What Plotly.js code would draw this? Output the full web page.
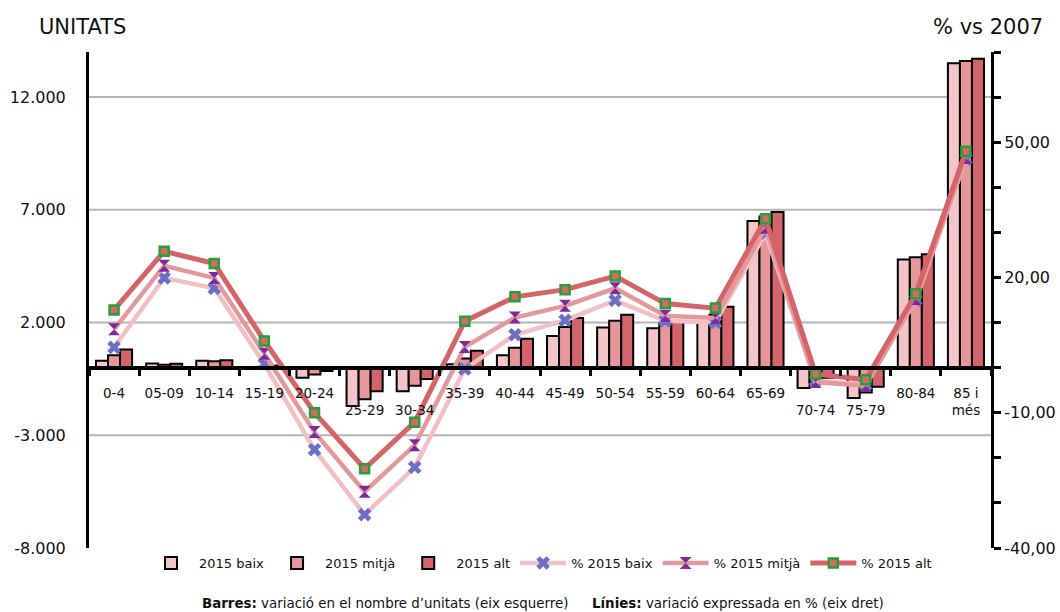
<!DOCTYPE html>
<html><head><meta charset="utf-8">
<script src="https://cdn.plot.ly/plotly-3.0.1.min.js"></script>
<style>html,body{margin:0;padding:0;background:#fff}</style>
</head><body><div id="chart" style="width:1060px;height:612px"></div>
<script>
const categories = ['0-4','05-09','10-14','15-19','20-24','25-29','30-34','35-39','40-44','45-49','50-54','55-59','60-64','65-69','70-74','75-79','80-84','85 i més'];
const tickLabels = ['0-4','05-09','10-14','15-19','20-24','<br>25-29','<br>30-34','35-39','40-44','45-49','50-54','55-59','60-64','65-69','<br>70-74','<br>75-79','80-84','85 i<br>més'];

const bar2015Baix  = [300, 180, 300, -60, -450, -1700, -1050, 150, 550, 1400, 1780, 1750, 2050, 6500, -900, -1350, 4800, 13500];
const bar2015Mitja = [550, 130, 280, 40, -300, -1400, -800, 400, 880, 1800, 2080, 1950, 2350, 6700, -650, -1100, 4900, 13600];
const bar2015Alt   = [800, 170, 330, 100, -150, -1050, -500, 750, 1280, 2200, 2350, 2070, 2700, 6900, -450, -850, 5030, 13700];

const pct2015Baix  = [4.5, 19.9, 17.6, 0.8, -18.2, -32.6, -22.1, -0.3, 7.3, 10.5, 14.9, 10.4, 10.0, 29.8, -2.9, -3.8, 15.0, 46.3];
const pct2015Mitja = [8.5, 22.6, 19.9, 3.1, -14.3, -27.5, -17.2, 4.6, 11.1, 13.7, 17.6, 11.5, 11.0, 31.0, -3.2, -4.0, 15.2, 46.5];
const pct2015Alt   = [12.8, 25.8, 23.1, 5.9, -10.0, -22.4, -12.1, 10.3, 15.7, 17.3, 20.3, 14.2, 13.2, 33.0, -1.4, -2.7, 16.4, 48.0];

const leftTicks = [-8000, -3000, 2000, 7000, 12000];
const leftTickText = ['-8.000', '-3.000', '2.000', '7.000', '12.000'];
const gridValues = [-3000, 2000, 7000, 12000];
const rightTicks = [-40, -30, -20, -10, 0, 10, 20, 30, 40, 50, 60, 70];
const rightTickText = ['-40,00', '', '', '-10,00', '', '', '20,00', '', '', '50,00', '', ''];

const FONT = 'DejaVu Sans, Verdana, sans-serif';
const LEFT_RANGE = [-8000, 14000];

const barLine = {color: '#000', width: 2};
const traces = [
  {type: 'bar', name: '2015 baix', x: categories, y: bar2015Baix, marker: {color: '#f3c5c9', line: barLine}},
  {type: 'bar', name: '2015 mitjà', x: categories, y: bar2015Mitja, marker: {color: '#e5979c', line: barLine}},
  {type: 'bar', name: '2015 alt', x: categories, y: bar2015Alt, marker: {color: '#d4646b', line: barLine}},
  {type: 'scatter', mode: 'lines+markers', name: '% 2015 baix', x: categories, y: pct2015Baix, yaxis: 'y2',
   line: {color: '#f2bfc3', width: 4.5}, marker: {symbol: 'x', size: 12, color: '#6b6fc6', line: {width: 0}}},
  {type: 'scatter', mode: 'lines+markers', name: '% 2015 mitjà', x: categories, y: pct2015Mitja, yaxis: 'y2',
   line: {color: '#e3999c', width: 4.5}, marker: {symbol: 'hourglass', size: 12, color: '#7d2a9c', line: {width: 0}}},
  {type: 'scatter', mode: 'lines+markers', name: '% 2015 alt', x: categories, y: pct2015Alt, yaxis: 'y2',
   line: {color: '#d46468', width: 5}, marker: {symbol: 'square', size: 9, color: '#d46a62', line: {color: '#24a03c', width: 2.5}}}
];

const shapes = gridValues.map(v => ({
  type: 'line', xref: 'paper', yref: 'y', x0: 0, x1: 1, y0: v, y1: v,
  line: {color: '#b4b4b4', width: 2}, layer: 'below'
}));

const layout = {
  width: 1060, height: 612,
  margin: {l: 89, r: 69, t: 52, b: 64},
  paper_bgcolor: '#ffffff', plot_bgcolor: '#ffffff',
  font: {family: FONT, size: 13, color: '#111'},
  barmode: 'group', bargap: 0.28, bargroupgap: 0,
  showlegend: true,
  legend: {orientation: 'h', x: 0.5, xanchor: 'center', y: 0, yanchor: 'top', itemwidth: 46,
           font: {family: FONT, size: 13, color: '#111'}, bgcolor: 'rgba(0,0,0,0)'},
  xaxis: {
    type: 'category', anchor: 'free', position: 8000 / 22000, range: [-0.5, 17.5], autorange: false,
    tickmode: 'array', tickvals: categories, ticktext: tickLabels, tickangle: 0,
    showline: true, linecolor: '#000', linewidth: 4,
    ticks: 'outside', tickson: 'boundaries', ticklen: 6, tickwidth: 3, tickcolor: '#000',
    ticklabelstandoff: 12,
    tickfont: {family: FONT, size: 13.5, color: '#111'},
    showgrid: false, zeroline: false, fixedrange: true
  },
  yaxis: {
    range: LEFT_RANGE, tickmode: 'array', tickvals: leftTicks, ticktext: leftTickText,
    showline: true, linecolor: '#000', linewidth: 3, ticks: '', showgrid: false, zeroline: false,
    ticklabelstandoff: 17,
    tickfont: {family: FONT, size: 16, color: '#111'}
  },
  yaxis2: {
    overlaying: 'y', side: 'right', anchor: 'x', range: [-40, 70],
    tickmode: 'array', tickvals: rightTicks, ticktext: rightTickText,
    showline: true, linecolor: '#000', linewidth: 3,
    ticks: 'outside', ticklen: 7, tickwidth: 3, tickcolor: '#000',
    ticklabelstandoff: 0,
    showgrid: false, zeroline: false,
    tickfont: {family: FONT, size: 16, color: '#111'}
  },
  shapes: shapes,
  annotations: [
    {xref: 'paper', yref: 'paper', x: (37 - 89) / 902, y: (548 - 27) / 496, xanchor: 'left', yanchor: 'middle',
     text: 'UNITATS', showarrow: false, font: {family: FONT, size: 21, color: '#111'}},
    {xref: 'paper', yref: 'paper', x: (1045 - 89) / 902, y: (548 - 27) / 496, xanchor: 'right', yanchor: 'middle',
     text: '% vs 2007', showarrow: false, font: {family: FONT, size: 21, color: '#111'}},
    {xref: 'paper', yref: 'paper', x: (200 - 89) / 902, y: (548 - 603) / 496, xanchor: 'left', yanchor: 'middle',
     text: '<b>Barres:</b> variació en el nombre d’unitats (eix esquerre)', showarrow: false,
     font: {family: FONT, size: 13.4, color: '#111'}},
    {xref: 'paper', yref: 'paper', x: (590 - 89) / 902, y: (548 - 603) / 496, xanchor: 'left', yanchor: 'middle',
     text: '<b>Línies:</b> variació expressada en % (eix dret)', showarrow: false,
     font: {family: FONT, size: 13.4, color: '#111'}}
  ]
};

Plotly.newPlot('chart', traces, layout, {displayModeBar: false, staticPlot: true});
</script></body></html>
